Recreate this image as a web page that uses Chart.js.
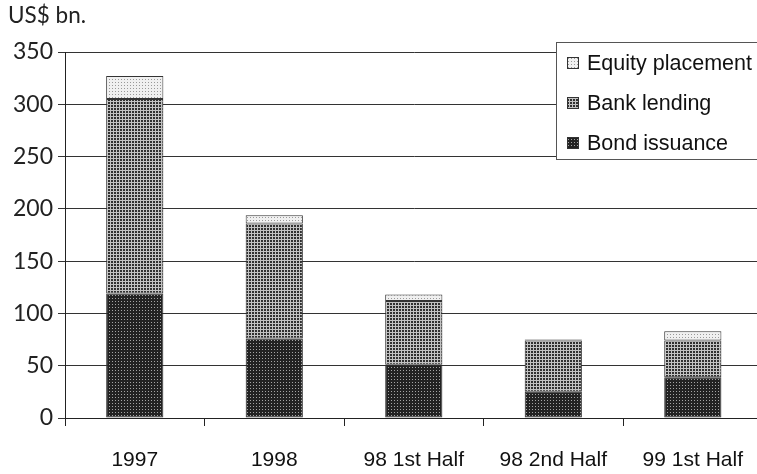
<!DOCTYPE html>
<html>
<head>
<meta charset="utf-8">
<script src="https://cdn.jsdelivr.net/npm/chart.js@4/dist/chart.umd.min.js"></script>
<style>
  html, body { margin: 0; padding: 0; background: #fff; overflow: hidden; }
  #wrap { width: 757px; height: 474px; overflow: hidden; }
</style>
</head>
<body>
<div id="wrap"><canvas id="c" width="765" height="474"></canvas></div>
<script>
// Capital flows by instrument, US$ bn.
const categories = ['1997', '1998', '98 1st Half', '98 2nd Half', '99 1st Half'];
const bondIssuance     = [119, 76, 51, 25, 39];
const bankLending      = [186, 110, 61, 49, 35];
const equityPlacement  = [22, 8, 6, 1, 9];
const yTicks = [0, 50, 100, 150, 200, 250, 300, 350];
const unitLabel = 'US$ bn.';

// Small tiled textures for the bar fills
function makePattern(bg, fg, cells, size) {
  const cv = document.createElement('canvas');
  cv.width = size; cv.height = size;
  const g = cv.getContext('2d');
  g.fillStyle = bg; g.fillRect(0, 0, size, size);
  g.fillStyle = fg;
  cells.forEach(([x, y, w, h]) => g.fillRect(x, y, w, h));
  return g.createPattern(cv, 'repeat');
}
const ctx = document.getElementById('c').getContext('2d');
const bondFill   = makePattern('#222222', '#a4a4a4', [[1, 1, 1, 1]], 3);
const bankFill   = makePattern('#c2c2c2', '#303030', [[0, 0, 2, 2]], 3);
const equityFill = makePattern('#f0f0f0', '#999999', [[1, 1, 1, 1]], 3);

// Boxed legend drawn inside the plot area, top right
const boxedLegend = {
  id: 'boxedLegend',
  afterDraw(chart) {
    const c = chart.ctx;
    const x0 = 556.5, y0 = 42.5, w = 215, h = 117;
    c.save();
    c.fillStyle = '#fff';
    c.fillRect(x0, y0, w, h);
    c.strokeStyle = '#555';
    c.lineWidth = 1;
    c.strokeRect(x0, y0, w, h);
    const order = chart.data.datasets.map((d, i) => i).reverse();
    c.font = '21.5px "Liberation Sans", Arial, sans-serif';
    c.textBaseline = 'middle';
    order.forEach((di, row) => {
      const ds = chart.data.datasets[di];
      const cy = 63 + row * 40;
      c.fillStyle = ds.backgroundColor;
      c.fillRect(567, cy - 6, 12, 12);
      c.strokeStyle = '#333';
      c.strokeRect(567.5, cy - 5.5, 11, 11);
      c.fillStyle = '#111';
      c.fillText(ds.label, 587, cy + 1);
    });
    c.restore();
  }
};

// Unit label above the value axis
const unitTitle = {
  id: 'unitTitle',
  afterDraw(chart) {
    const c = chart.ctx;
    c.save();
    c.font = '22.5px Lato, "Noto Sans", sans-serif';
    c.fillStyle = '#222';
    c.textBaseline = 'alphabetic';
    c.fillText(unitLabel, 8, 23);
    c.restore();
  }
};

const common = { borderColor: '#333', borderWidth: 1, borderSkipped: false,
                 barPercentage: 0.41, categoryPercentage: 1.0 };

new Chart(ctx, {
  type: 'bar',
  data: {
    labels: categories,
    datasets: [
      Object.assign({ label: 'Bond issuance', data: bondIssuance, backgroundColor: bondFill }, common),
      Object.assign({ label: 'Bank lending', data: bankLending, backgroundColor: bankFill }, common),
      Object.assign({ label: 'Equity placement', data: equityPlacement, backgroundColor: equityFill }, common)
    ]
  },
  options: {
    responsive: false,
    animation: false,
    layout: { padding: { left: 0, right: 0, top: 52, bottom: 0 } },
    plugins: {
      legend: { display: false },
      tooltip: { enabled: false },
      title: { display: false }
    },
    scales: {
      x: {
        stacked: true,
        offset: true,
        grid: { offset: true, drawOnChartArea: false, drawTicks: true, tickLength: 8, color: '#222', lineWidth: 1 },
        border: { display: true, color: '#222', width: 1 },
        ticks: { color: '#111', font: { family: '"Liberation Sans", Arial, sans-serif', size: 21 }, padding: 22, maxRotation: 0, autoSkip: false },
        afterFit(scale) { scale.height = 56; }
      },
      y: {
        stacked: true,
        min: 0, max: 350,
        afterBuildTicks(scale) { scale.ticks = yTicks.map(v => ({ value: v })); },
        grid: { color: '#333', lineWidth: 1, tickLength: 7, drawTicks: true },
        border: { display: true, color: '#222', width: 1 },
        ticks: { color: '#222', font: { family: 'Lato, "Noto Sans", sans-serif', size: 23 }, padding: 5 },
        afterFit(scale) { scale.width = 65; }
      }
    }
  },
  plugins: [boxedLegend, unitTitle]
});
</script>
</body>
</html>
